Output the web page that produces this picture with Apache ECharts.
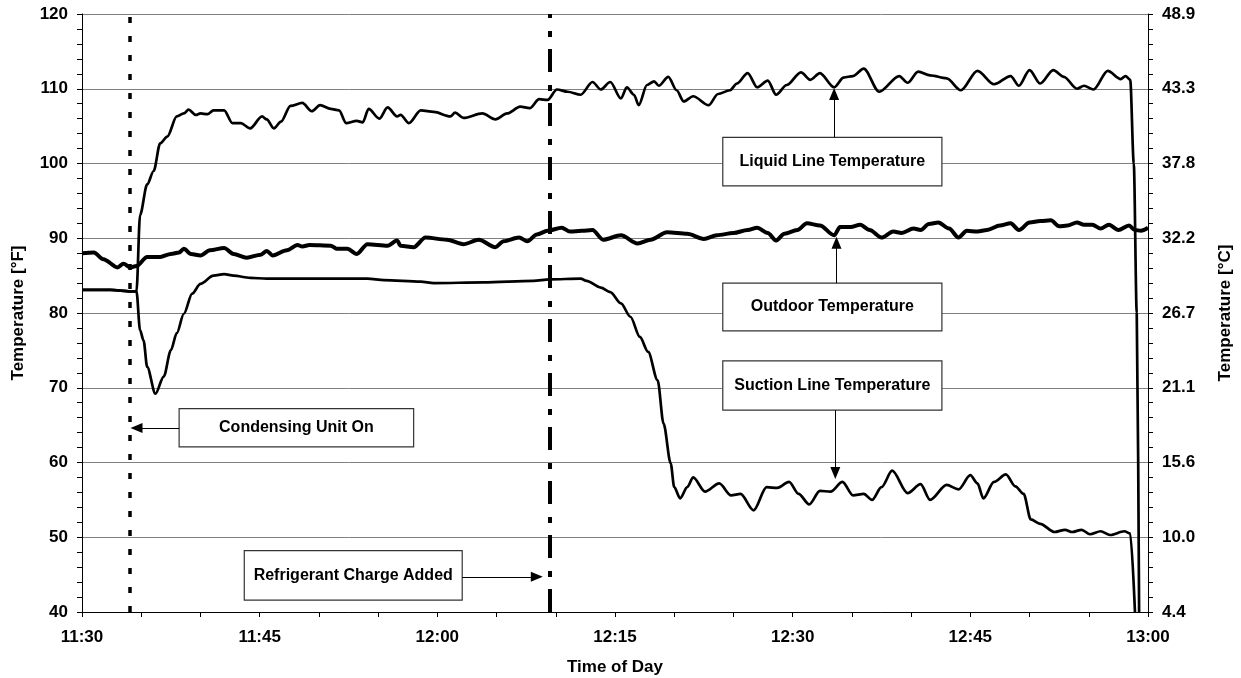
<!DOCTYPE html>
<html><head><meta charset="utf-8">
<script src="https://cdn.jsdelivr.net/npm/echarts@6/dist/echarts.min.js"></script>
<style>html,body{margin:0;padding:0;background:#fff}#c{width:1241px;height:678px}</style>
</head><body><div id="c"></div>
<script>
// ---- data (x = minutes after 11:30, y = °F) ----
const timeTickLabels = ['11:30','11:45','12:00','12:15','12:30','12:45','13:00'];
const celsiusTickLabels = ['4.4','10.0','15.6','21.1','26.7','32.2','37.8','43.3','48.9'];

const liquidMinutes = [0,2.4,4.1,4.6,4.9,5.5,6.05,6.6,7.2,8.0,8.6,9.0,9.6,10.0,10.6,11.1,12.0,12.7,13.4,14.2,15.2,15.6,16.2,16.8,17.6,18.6,19.4,20.1,21.0,21.7,22.3,23.2,23.7,24.2,25.1,25.8,26.6,26.9,27.6,28.6,29.7,31.1,31.5,32.2,33.8,34.9,35.9,37.0,37.8,38.6,39.3,40.1,41.0,42.1,43.1,43.8,44.6,45.5,46.0,46.6,47.0,47.7,48.3,48.7,49.5,50.2,50.8,51.6,52.9,53.7,54.7,55.3,56.2,57.0,57.9,58.6,59.5,60.7,61.5,62.3,63.5,64.3,65.1,66.0,67.3,69.0,69.7,70.6,71.6,73.0,74.2,75.6,77.0,78.4,79.1,80.0,80.9,82.0,82.9,84.0,84.6,85.4,86.6,87.7,88.1,88.5,88.8,89.05,89.25];
const liquidTempF = [83.1,83.1,82.9,82.9,93.1,97.2,99.0,102.7,103.6,106.3,106.7,107.2,106.5,106.7,106.6,107.1,107.1,105.4,105.4,104.7,106.3,105.9,104.7,105.6,107.7,108.1,107.0,107.8,107.3,107.1,105.4,105.7,105.5,107.3,106.0,107.5,106.3,106.5,105.4,107.1,106.9,106.3,106.8,106.1,106.7,105.9,106.7,107.6,107.4,108.6,108.5,109.9,109.6,109.2,110.9,109.9,110.9,108.7,110.2,109.2,107.8,110.5,111.0,110.4,111.6,109.8,108.3,109.0,107.8,109.3,109.8,110.7,112.1,110.2,111.1,109.2,110.5,112.2,111.2,112.1,110.2,111.5,111.7,112.7,109.6,111.7,110.8,112.3,111.8,111.4,109.8,112.4,110.6,111.7,110.4,112.5,110.7,112.5,111.6,110.0,110.4,109.9,112.4,111.3,111.7,111.2,100.0,80.0,40.0];

const outdoorMinutes = [0,1.0,1.8,3.0,3.5,4.1,4.6,5.5,6.6,7.5,8.2,8.6,9.2,10.0,10.8,12.0,12.8,13.9,15.1,15.6,16.1,17.3,18.2,18.6,19.2,21.0,21.5,22.4,23.2,24.1,25.8,26.6,26.9,28.0,29.0,30.8,32.2,33.5,34.9,35.6,36.9,37.6,38.4,39.3,40.5,41.2,42.2,43.1,44.0,45.5,46.9,48.0,49.4,51.1,52.5,53.6,55.0,56.2,57.0,57.9,58.6,59.3,60.4,61.2,62.3,63.5,64.0,64.9,65.7,66.5,67.5,68.5,69.2,70.2,70.8,71.5,72.3,73.2,74.0,74.7,75.6,76.4,77.5,78.4,79.1,80.0,80.9,81.8,82.5,83.2,84.0,84.6,85.3,86.0,86.7,87.5,88.4,88.9,89.4,90.0];
const outdoorTempF = [88.0,88.1,87.2,86.1,86.6,86.1,86.3,87.5,87.5,87.9,88.1,88.6,87.9,87.7,88.4,88.7,87.9,87.4,87.8,88.3,87.7,88.4,89.1,88.9,89.1,89.0,88.6,88.6,87.9,89.2,89.0,89.7,89.0,88.8,90.1,89.8,89.2,89.8,88.8,89.6,90.1,89.6,90.5,91.0,91.4,90.9,91.0,91.1,89.8,90.4,89.3,89.8,90.8,90.6,89.9,90.4,90.7,91.1,91.4,90.7,89.7,90.6,91.1,92.0,91.7,90.4,91.5,91.5,91.8,91.1,90.1,90.9,90.7,91.3,91.1,91.9,92.1,91.3,90.1,91.0,90.9,91.1,91.7,92.0,91.1,92.1,92.3,92.4,91.6,91.7,92.1,91.8,91.8,91.3,91.8,91.1,91.7,91.1,91.0,91.4];

const suctionMinutes = [0,2.4,4.1,4.6,4.9,5.2,5.5,6.2,6.9,7.5,8.0,8.6,9.3,10.0,11.1,12.0,12.8,14.2,15.6,18.5,21.3,24.1,25.5,28.6,29.7,33.9,38.1,39.5,42.1,42.6,43.8,44.6,45.5,46.3,47.1,47.8,48.6,49.1,49.7,50.0,50.5,51.1,51.6,52.6,53.8,54.8,55.6,56.7,57.8,58.7,59.7,60.5,61.4,62.3,63.2,64.2,65.1,66.0,66.7,67.5,68.4,69.7,70.8,71.6,73.0,74.0,75.0,75.6,76.1,77.0,78.0,78.8,79.5,80.1,80.9,82.1,83.0,83.6,84.4,85.1,86.0,86.8,88.0,88.5,88.9];
const suctionTempF = [83.1,83.1,82.9,82.9,77.7,76.3,72.8,69.2,71.5,75.0,77.3,79.9,82.6,83.9,85.0,85.2,85.0,84.7,84.6,84.6,84.6,84.6,84.4,84.2,84.0,84.1,84.3,84.5,84.6,84.3,83.4,82.8,81.3,79.5,76.8,74.8,71.0,65.2,59.9,56.7,55.2,56.7,58.0,56.1,57.2,55.6,55.8,53.6,56.7,56.6,57.4,55.8,54.4,56.2,56.1,57.4,55.6,55.8,55.0,56.7,58.9,55.9,57.1,55.0,57.0,56.4,58.3,57.2,55.2,57.4,58.4,56.8,55.8,52.4,51.8,50.7,51.0,50.7,51.0,50.4,50.8,50.3,50.8,50.5,40.0];

// event times (minutes after 11:30)
const condensingUnitOnMin = 4.05;
const chargeAddedMin = 39.5;

// ---- layout of annotations (data coordinates) ----
const FONT = "'Liberation Sans', Arial, sans-serif";
const boxes = [
  {text:'Liquid Line Temperature', x0:54.1, x1:72.6, y0:97.0, y1:103.5},
  {text:'Outdoor Temperature', x0:54.1, x1:72.6, y0:77.6, y1:84.0},
  {text:'Suction Line Temperature', x0:54.1, x1:72.6, y0:67.0, y1:73.6},
  {text:'Condensing Unit On', x0:8.2, x1:28.0, y0:62.1, y1:67.2},
  {text:'Refrigerant Charge Added', x0:13.7, x1:32.1, y0:41.6, y1:48.2}
];
const arrows = [
  [[63.5,103.5],[63.5,109.3]],
  [[63.7,84.0],[63.7,89.4]],
  [[63.6,67.0],[63.6,58.6]],
  [[8.2,64.6],[4.6,64.6]],
  [[32.1,44.7],[38.4,44.7]]
];

const zip = (a,b) => a.map((v,i)=>[v,b[i]]);
const chart = echarts.init(document.getElementById('c'), null, {renderer:'canvas'});
const labelStyle = {color:'#000', fontFamily:FONT, fontWeight:'bold', fontSize:17};

chart.setOption({
  animation:false,
  backgroundColor:'#fff',
  grid:{left:82, right:93, top:14, bottom:66, outerBoundsMode:'none', containLabel:false},
  xAxis:{
    type:'value', min:0, max:90, interval:15, position:'bottom',
    name:'Time of Day', nameLocation:'middle', nameGap:47,
    nameTextStyle:{...labelStyle},
    axisLine:{show:true, onZero:false, lineStyle:{color:'#000', width:1}},
    axisTick:{show:true, length:5, lineStyle:{color:'#000'}},
    minorTick:{show:true, splitNumber:3, length:5, lineStyle:{color:'#000'}},
    splitLine:{show:false},
    axisLabel:{...labelStyle, margin:17, formatter:(v)=>timeTickLabels[Math.round(v/15)]}
  },
  yAxis:[{
    type:'value', min:40, max:120, interval:10, position:'left',
    name:'Temperature [°F]', nameLocation:'middle', nameGap:55, nameRotate:90,
    nameTextStyle:{...labelStyle},
    axisLine:{show:true, lineStyle:{color:'#000', width:1}},
    axisTick:{show:true, length:5, lineStyle:{color:'#000'}},
    minorTick:{show:true, splitNumber:5, length:5, lineStyle:{color:'#000'}},
    splitLine:{show:true, lineStyle:{color:'#808080', width:1}},
    axisLabel:{...labelStyle, margin:14}
  },{
    type:'value', min:40, max:120, interval:10, position:'right',
    name:'Temperature [°C]', nameLocation:'middle', nameGap:69, nameRotate:90,
    nameTextStyle:{...labelStyle},
    axisLine:{show:true, lineStyle:{color:'#000', width:1}},
    axisTick:{show:true, length:5, lineStyle:{color:'#000'}},
    minorTick:{show:true, splitNumber:5, length:5, lineStyle:{color:'#000'}},
    splitLine:{show:false},
    axisLabel:{...labelStyle, margin:14, formatter:(v)=>celsiusTickLabels[Math.round((v-40)/10)]}
  }],
  series:[
    {
      name:'Outdoor Temperature', type:'line', data:zip(outdoorMinutes,outdoorTempF),
      showSymbol:false, smooth:0.3, smoothMonotone:'x', z:3,
      lineStyle:{color:'#000', width:4},
      markLine:{
        silent:true, symbol:'none', animation:false, label:{show:false},
        data:[
          {xAxis:condensingUnitOnMin, lineStyle:{color:'#000', width:3.5, type:[6,13]}},
          {xAxis:chargeAddedMin, lineStyle:{color:'#000', width:4, type:[23,12,6,13]}}
        ]
      }
    },
    {
      name:'Liquid Line Temperature', type:'line', data:zip(liquidMinutes,liquidTempF),
      showSymbol:false, smooth:0.3, smoothMonotone:'x', z:3,
      lineStyle:{color:'#000', width:2.7},
      markLine:{
        silent:true, animation:false, symbol:['none','triangle'], symbolSize:[10,12],
        label:{show:false},
        lineStyle:{color:'#000', width:1, type:'solid'},
        data: arrows.map(a=>[{coord:a[0]},{coord:a[1]}])
      }
    },
    {
      name:'Suction Line Temperature', type:'line', data:zip(suctionMinutes,suctionTempF),
      showSymbol:false, smooth:0.3, smoothMonotone:'x', z:3,
      lineStyle:{color:'#000', width:2.7},
      markArea:{
        silent:true, animation:false,
        itemStyle:{color:'#fff', borderColor:'#333', borderWidth:1.2},
        label:{show:true, position:'inside', ...labelStyle, fontSize:16},
        data: boxes.map(b=>[{name:b.text, coord:[b.x0,b.y1]},{coord:[b.x1,b.y0]}])
      }
    }
  ]
});
</script></body></html>
